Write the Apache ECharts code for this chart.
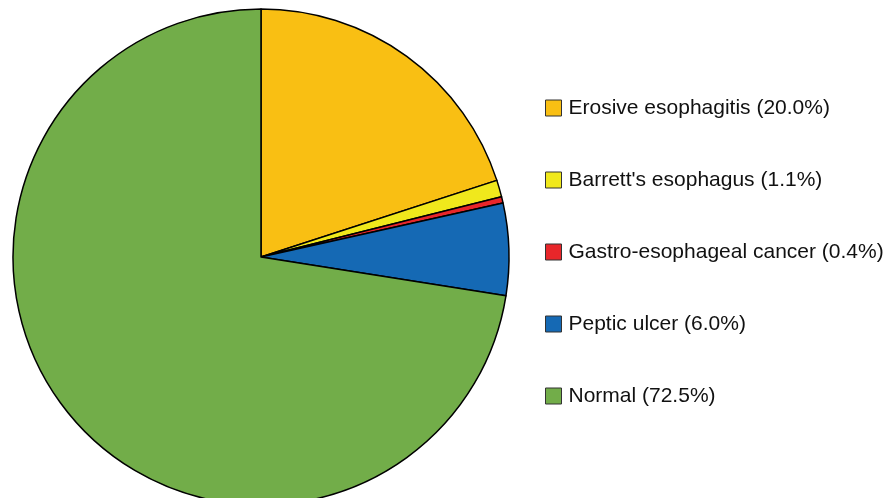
<!DOCTYPE html>
<html><head><meta charset="utf-8">
<script src="https://cdn.jsdelivr.net/npm/echarts@6/dist/echarts.min.js"></script>
<style>html,body{margin:0;padding:0;background:#fff}#c{width:889px;height:498px}</style>
</head><body><div id="c"></div>
<script>
const categories = ["Erosive esophagitis", "Barrett's esophagus", "Gastro-esophageal cancer", "Peptic ulcer", "Normal"];
const values = [20.0, 1.1, 0.4, 6.0, 72.5];
const colors = ["#F9BF13", "#F0E81C", "#E8262A", "#1569B4", "#72AD49"];

const chart = echarts.init(document.getElementById('c'));
const data = categories.map((n, i) => ({ name: n, value: values[i], itemStyle: { color: colors[i] } }));
chart.setOption({
  animation: false,
  legend: {
    orient: 'vertical',
    left: 540,
    top: 92,
    itemWidth: 16,
    itemHeight: 16,
    itemGap: 50,
    icon: 'rect',
    itemStyle: { borderColor: '#333', borderWidth: 1 },
    textStyle: { fontFamily: 'Liberation Sans, Arial, sans-serif', fontSize: 21, lineHeight: 22, color: '#111', padding: [0, 0, 0, 2] },
    formatter: name => name + ' (' + values[categories.indexOf(name)].toFixed(1) + '%)'
  },
  series: [{
    type: 'pie',
    center: [261, 257],
    radius: 248,
    startAngle: 90,
    clockwise: true,
    label: { show: false },
    labelLine: { show: false },
    itemStyle: { borderColor: '#000', borderWidth: 1.5 },
    emphasis: { disabled: true },
    data: data
  }]
});
</script></body></html>
